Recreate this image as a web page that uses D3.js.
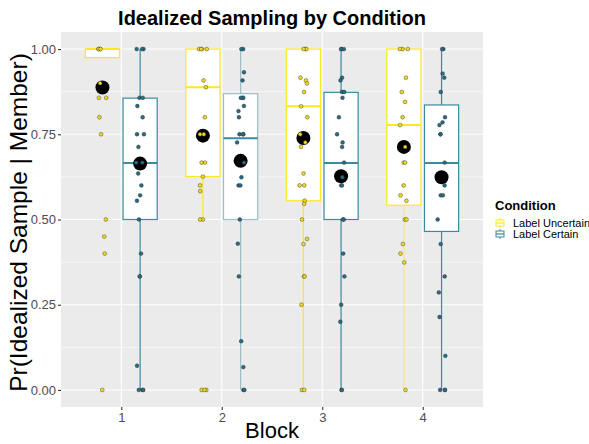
<!DOCTYPE html>
<html><head><meta charset="utf-8">
<script src="https://cdn.jsdelivr.net/npm/d3@7"></script>
<style>body{margin:0;background:#fff}svg{display:block}</style>
</head><body><svg id="c" width="589" height="444"></svg>
<script>
const blocks = ["1","2","3","4"];
const conditions = ["Label Uncertain","Label Certain"];
const yTicks = [0,0.25,0.5,0.75,1];
const yTickLabels = ["0.00","0.25","0.50","0.75","1.00"];
// box stats per block, [uncertain, certain]
const q1     = [[0.975,0.50],[0.626,0.50],[0.555,0.50],[0.542,0.465]];
const median = [[1.00,0.666],[0.888,0.738],[0.832,0.666],[0.777,0.666]];
const q3     = [[1.00,0.856],[1.00,0.869],[1.00,0.873],[1.00,0.836]];
const wLow   = [[0.975,0.0],[0.50,0.0],[0.0,0.0],[0.0,0.0]];
const wHigh  = [[1.00,1.00],[1.00,1.00],[1.00,1.00],[1.00,1.00]];
const means  = [[0.887,0.664],[0.746,0.672],[0.739,0.627],[0.713,0.624]];
// individual responses
const ptsUncertain = [
  [1,1,1,1,0.90,0.857,0.857,0.80,0.75,0.5,0.45,0.4,0],
  [1,1,1,1,0.908,0.888,0.80,0.75,0.75,0.667,0.667,0.626,0.60,0.583,0.5,0.5,0,0,0],
  [1,1,1,0.916,0.908,0.899,0.874,0.832,0.80,0.75,0.726,0.713,0.635,0.60,0.60,0.555,0.546,0.5,0.443,0.428,0.333,0.333,0.25,0,0],
  [1,1,1,0.916,0.874,0.845,0.80,0.777,0.713,0.667,0.667,0.60,0.571,0.555,0.5,0.5,0.428,0.40,0.374,0]
];
const ptsCertain = [
  [1,1,1,0.857,0.857,0.833,0.80,0.75,0.75,0.713,0.667,0.667,0.635,0.60,0.571,0.555,0.5,0.4,0.333,0.333,0.071,0,0,0],
  [1,1,0.932,0.908,0.857,0.857,0.857,0.833,0.818,0.80,0.75,0.75,0.75,0.726,0.667,0.624,0.60,0.60,0.5,0.429,0.333,0.143,0.067,0,0],
  [1,1,1,0.916,0.908,0.874,0.874,0.857,0.80,0.75,0.726,0.713,0.667,0.624,0.60,0.60,0.5,0.5,0.4,0.333,0.25,0.2,0,0],
  [1,1,0.928,0.916,0.874,0.80,0.785,0.777,0.75,0.75,0.667,0.60,0.571,0.571,0.5,0.428,0.333,0.286,0.214,0.10,0,0,0]
];

const W=589,H=444;
const P={l:61,r:483,t:32,b:407};
const colors=["#FDE725","#3B8AA2"];
const ptFill=["#F2DC1E","#2A6D82"];
// lighter outline seen on some boxes: [block][condition] -> opacity
const boxOpacity=[[1,1],[1,0.5],[1,1],[1,1]];
const whiskerOpacity=[[1,1],[1,0.45],[1,1],[0.5,1]];
const FONT="Liberation Sans, Arial, sans-serif";
const svg=d3.select("#c");
const x=d3.scaleLinear().domain([0.4,4.6]).range([P.l,P.r]);
const y=d3.scaleLinear().domain([-0.05,1.05]).range([P.b,P.t]);
const step=x(2)-x(1);
const dodge=0.1875, boxW=0.34;

svg.append("rect").attr("x",P.l).attr("y",P.t).attr("width",P.r-P.l).attr("height",P.b-P.t).attr("fill","#EBEBEB");
const minor=[0.125,0.375,0.625,0.875];
svg.selectAll(".gmin").data(minor).enter().append("line")
  .attr("x1",P.l).attr("x2",P.r).attr("y1",d=>y(d)).attr("y2",d=>y(d)).attr("stroke","#fff").attr("stroke-width",0.55);
svg.selectAll(".gy").data(yTicks).enter().append("line")
  .attr("x1",P.l).attr("x2",P.r).attr("y1",d=>y(d)).attr("y2",d=>y(d)).attr("stroke","#fff").attr("stroke-width",1.1);
svg.selectAll(".gx").data(blocks).enter().append("line")
  .attr("y1",P.t).attr("y2",P.b).attr("x1",(d,i)=>x(i+1)).attr("x2",(d,i)=>x(i+1)).attr("stroke","#fff").attr("stroke-width",1.1);

// axes
const ya=d3.axisLeft(y).tickValues(yTicks).tickFormat((d,i)=>yTickLabels[i]).tickSize(3).tickPadding(2);
const yg=svg.append("g").attr("transform",`translate(${P.l},0)`).call(ya);
const xa=d3.axisBottom(x).tickValues([1,2,3,4]).tickFormat((d,i)=>blocks[i]).tickSize(3).tickPadding(3);
const xg=svg.append("g").attr("transform",`translate(0,${P.b})`).call(xa);
[yg,xg].forEach(g=>{g.select(".domain").remove();g.selectAll("line").attr("stroke","#333").attr("stroke-width",1.1);
  g.selectAll("text").attr("fill","#4D4D4D").attr("font-size",13).attr("font-family",FONT);});

// boxes
blocks.forEach((b,i)=>{
  [0,1].forEach(c=>{
    const cx=x(i+1)+(c===0?-1:1)*dodge*step;
    const hw=boxW*step/2;
    const g=svg.append("g");
    const col=colors[c];
    g.append("line").attr("x1",cx).attr("x2",cx).attr("y1",y(q3[i][c])).attr("y2",y(wHigh[i][c])).attr("stroke",col).attr("stroke-width",1.2).attr("stroke-opacity",whiskerOpacity[i][c]);
    g.append("line").attr("x1",cx).attr("x2",cx).attr("y1",y(q1[i][c])).attr("y2",y(wLow[i][c])).attr("stroke",col).attr("stroke-width",1.2).attr("stroke-opacity",whiskerOpacity[i][c]);
    g.append("rect").attr("x",cx-hw).attr("width",2*hw).attr("y",y(q3[i][c])).attr("height",y(q1[i][c])-y(q3[i][c]))
      .attr("fill","#fff").attr("stroke",col).attr("stroke-width",1.2).attr("stroke-opacity",boxOpacity[i][c]);
    g.append("line").attr("x1",cx-hw).attr("x2",cx+hw).attr("y1",y(median[i][c])).attr("y2",y(median[i][c])).attr("stroke",col).attr("stroke-width",2);
  });
});
// means
blocks.forEach((b,i)=>{[0,1].forEach(c=>{
  const cx=x(i+1)+(c===0?-1:1)*dodge*step;
  svg.append("circle").attr("cx",cx).attr("cy",y(means[i][c])).attr("r",7).attr("fill","#000");
});});
// points
function jit(i,k){const s=Math.sin(i*12.9898+k*78.233)*43758.5453;return (s-Math.floor(s))*2-1;}
[ptsUncertain,ptsCertain].forEach((set,c)=>{
  set.forEach((arr,i)=>{
    const cx=x(i+1)+(c===0?-1:1)*dodge*step;
    svg.append("g").selectAll("circle").data(arr).enter().append("circle")
      .attr("cx",(d,k)=>cx+jit(i*10+c,k)*0.04*step)
      .attr("cy",d=>y(d)).attr("r",1.9)
      .attr("fill",ptFill[c]).attr("stroke","#222").attr("stroke-width",0.5).attr("stroke-opacity",0.8);
  });
});

// titles
svg.append("text").attr("x",(P.l+P.r)/2).attr("y",25).attr("text-anchor","middle").attr("font-size",20).attr("font-weight","bold")
  .attr("font-family",FONT).attr("fill","#000").text("Idealized Sampling by Condition");
svg.append("text").attr("x",(P.l+P.r)/2).attr("y",438).attr("text-anchor","middle").attr("font-size",22)
  .attr("font-family",FONT).attr("fill","#000").text("Block");
svg.append("text").attr("transform",`translate(27,${(P.t+P.b)/2+3}) rotate(-90)`).attr("text-anchor","middle").attr("font-size",24.5)
  .attr("font-family",FONT).attr("fill","#000").text("Pr(Idealized Sample | Member)");

// legend
const lg=svg.append("g").attr("transform","translate(495,0)");
lg.append("text").attr("x",0).attr("y",210).attr("font-size",13).attr("font-weight","bold").attr("font-family",FONT).text("Condition");
conditions.forEach((name,c)=>{
  const cy=223+c*11;
  lg.append("line").attr("x1",5).attr("x2",5).attr("y1",cy-5).attr("y2",cy+5).attr("stroke",colors[c]).attr("stroke-width",1);
  lg.append("rect").attr("x",1).attr("y",cy-3).attr("width",8).attr("height",6).attr("fill","#fff").attr("stroke",colors[c]).attr("stroke-width",1);
  lg.append("line").attr("x1",1).attr("x2",9).attr("y1",cy).attr("y2",cy).attr("stroke",colors[c]).attr("stroke-width",1.2);
  lg.append("text").attr("x",18).attr("y",cy+4).attr("font-size",11).attr("font-family",FONT).attr("fill","#000").text(name);
});
</script></body></html>
